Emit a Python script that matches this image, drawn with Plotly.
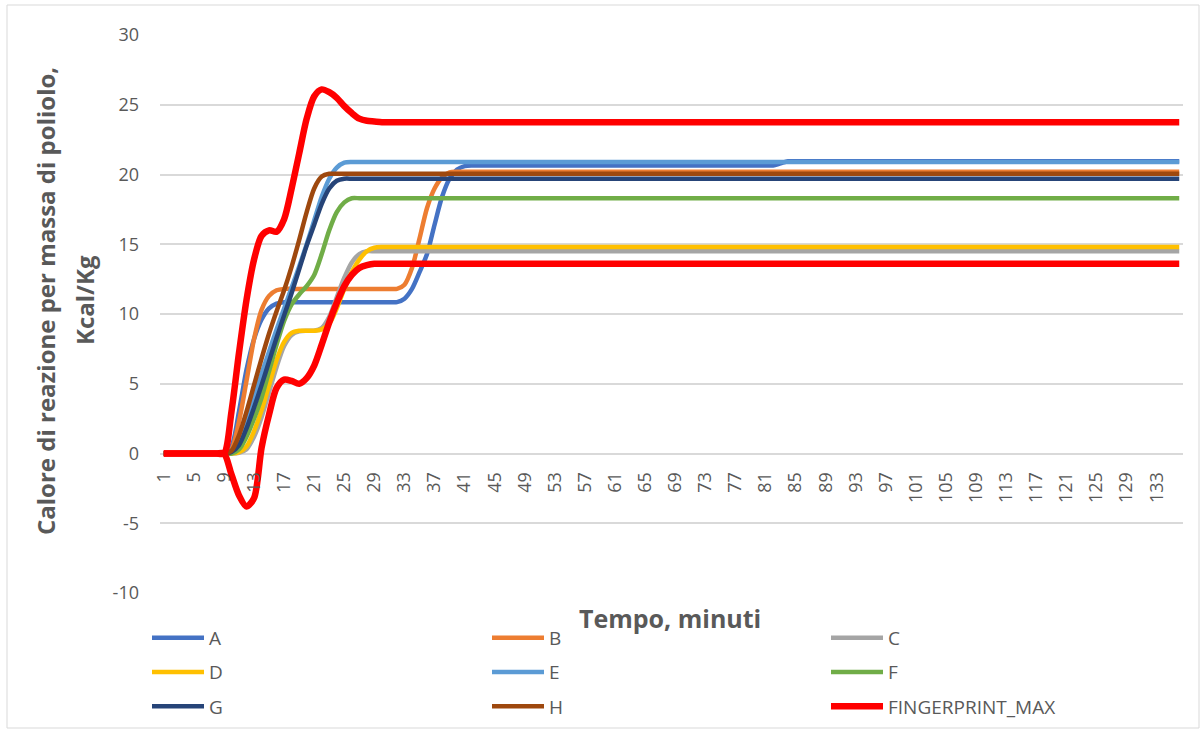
import plotly.graph_objects as go

# Minutes on the category axis and the labelled ticks
minutes = list(range(1, 137))
tick_minutes = list(range(1, 134, 4))
y_ticks = [-10, -5, 0, 5, 10, 15, 20, 25, 30]
y_tick_text = ["-10", "-5", "0", "5", "10", "15", "20", "25", "30"]

# Heat of reaction per polyol mass (Kcal/Kg) for each formulation
serie_A = ([0] * 9 + [0.5, 3.0, 6.0, 8.2, 9.6, 10.4, 10.75] + [10.85] * 16
           + [11.1, 11.8, 13.0, 14.3, 16.4, 18.4, 19.7, 20.35, 20.6] + [20.65] * 41
           + [20.8] + [20.95] * 53)
serie_B = ([0] * 9 + [0.3, 2.3, 5.2, 8.2, 10.3, 11.3, 11.7] + [11.8] * 16
           + [12.1, 13.3, 15.4, 17.6, 19.0, 19.8, 20.15] + [20.2] * 97)
serie_C = ([0] * 10 + [0.05, 0.3, 1.2, 2.6, 4.4, 6.2, 7.7, 8.5, 8.75] + [8.8] * 2
           + [9.0, 9.8, 11.2, 12.6, 13.7, 14.3] + [14.5] * 109)
serie_D = ([0] * 10 + [0.1, 0.5, 1.6, 3.1, 4.9, 6.7, 8.0, 8.65] + [8.8] * 3
           + [8.9, 9.3, 10.4, 11.8, 13.0, 13.9, 14.5, 14.75] + [14.8] * 107)
serie_E = ([0] * 9 + [0.2, 1.0, 2.5, 4.1, 5.7, 7.3, 8.9, 10.4, 11.9, 13.4, 15.0,
                      16.7, 18.4, 19.7, 20.5, 20.85] + [20.9] * 111)
serie_F = ([0] * 10 + [0.3, 1.2, 2.5, 4.0, 5.9, 7.8, 9.5, 10.7, 11.4, 12.0, 12.8,
                       14.3, 16.0, 17.3, 18.0] + [18.3] * 111)
serie_G = ([0] * 9 + [0.1, 0.6, 1.8, 3.3, 4.9, 6.6, 8.3, 9.9, 11.5, 13.2, 14.9,
                      16.4, 17.9, 19.0, 19.55] + [19.7] * 112)
serie_H = ([0] * 9 + [0.2, 1.3, 3.0, 4.9, 6.8, 8.6, 10.2, 11.7, 13.4, 15.3, 17.3,
                      19.0, 19.85] + [20.05] * 114)
fingerprint_max = ([0] * 9 + [3.0, 7.2, 11.0, 13.9, 15.6, 16.0, 15.9, 16.8, 19.0,
                              21.5, 24.0, 25.6, 26.1, 25.9, 25.5, 24.9, 24.4, 24.0,
                              23.85, 23.8] + [23.75] * 107)
fingerprint_min = ([0] * 9 + [-1.5, -3.0, -3.8, -3.2, 0.4, 2.8, 4.7, 5.3, 5.2, 5.0,
                              5.4, 6.3, 7.8, 9.4, 10.8, 12.0, 12.8, 13.3, 13.5]
                   + [13.6] * 108)

series = [
    ("A", serie_A, "#4472C4", 4.5, "legend"),
    ("B", serie_B, "#ED7D31", 4.5, "legend2"),
    ("C", serie_C, "#A5A5A5", 4.5, "legend3"),
    ("D", serie_D, "#FFC000", 4.5, "legend"),
    ("E", serie_E, "#5B9BD5", 4.5, "legend2"),
    ("F", serie_F, "#70AD47", 4.5, "legend3"),
    ("G", serie_G, "#264478", 4.5, "legend"),
    ("H", serie_H, "#9E480E", 4.5, "legend2"),
    ("FINGERPRINT_MAX", fingerprint_max, "#FF0000", 6.5, "legend3"),
]

GREY_TEXT = "#595959"
FONT = "Open Sans"

fig = go.Figure()
for name, values, color, width, leg in series:
    fig.add_trace(go.Scatter(
        x=minutes, y=values, name=name, mode="lines", legendgroup=name,
        line=dict(color=color, width=width, shape="spline", smoothing=0.8),
        legend=leg,
    ))
fig.add_trace(go.Scatter(
    x=minutes, y=fingerprint_min, name="FINGERPRINT_MIN", mode="lines",
    line=dict(color="#FF0000", width=6.5, shape="spline", smoothing=0.8),
    showlegend=False,
))

# Three legend columns: A/D/G, B/E/H, C/F/FINGERPRINT_MAX
legend_style = dict(
    orientation="v", xanchor="left", yanchor="top", bgcolor="rgba(0,0,0,0)",
    font=dict(family=FONT, size=19, color=GREY_TEXT), tracegroupgap=6.5,
    itemwidth=52,
)

# Plot area: x 160..1183 px, y 35..593 px
def px_x(px):
    return (px - 160) / 1023

def px_y(py):
    return (593 - py) / 558

fig.update_layout(
    width=1204, height=733,
    margin=dict(l=160, r=21, t=35, b=140, autoexpand=False),
    paper_bgcolor="white", plot_bgcolor="white",
    font=dict(family=FONT, color=GREY_TEXT),
    legend=dict(legend_style, x=px_x(147), y=px_y(619)),
    legend2=dict(legend_style, x=px_x(487), y=px_y(619)),
    legend3=dict(legend_style, x=px_x(826), y=px_y(619)),
    xaxis=dict(
        range=[0.5, 136.5], tickmode="array", tickvals=tick_minutes,
        ticktext=[str(m) for m in tick_minutes], tickangle=-90,
        tickfont=dict(family=FONT, size=18, color=GREY_TEXT),
        showgrid=False, zeroline=False, showline=False, ticks="",
        anchor="free", position=0.25, ticklabelstandoff=14,
    ),
    yaxis=dict(
        range=[-10, 30], tickmode="array", tickvals=y_ticks, ticktext=y_tick_text,
        tickfont=dict(family=FONT, size=18, color=GREY_TEXT),
        showgrid=True, gridcolor="#D9D9D9", gridwidth=1.5,
        zeroline=False, showline=False, ticks="", ticklabelstandoff=20,
    ),
    showlegend=True,
)

# Axis titles
fig.add_annotation(
    text="<b>Tempo, minuti</b>", xref="paper", yref="paper",
    x=px_x(670), y=px_y(618), xanchor="center", yanchor="middle", showarrow=False,
    font=dict(family=FONT, size=25, color=GREY_TEXT),
)
fig.add_annotation(
    text="<b>Calore di reazione per massa di poliolo,</b>", xref="paper", yref="paper",
    x=px_x(46), y=px_y(301), xanchor="center", yanchor="middle",
    showarrow=False, textangle=-90,
    font=dict(family=FONT, size=24, color=GREY_TEXT),
)
fig.add_annotation(
    text="<b>Kcal/Kg</b>", xref="paper", yref="paper",
    x=px_x(84), y=px_y(300), xanchor="center", yanchor="middle",
    showarrow=False, textangle=-90,
    font=dict(family=FONT, size=24, color=GREY_TEXT),
)

# Thin chart-area border
fig.add_shape(
    type="rect", xref="paper", yref="paper",
    x0=px_x(7), x1=px_x(1199), y0=px_y(728), y1=px_y(5),
    line=dict(color="#D9D9D9", width=1), layer="below",
)

fig.write_html("out.html")
